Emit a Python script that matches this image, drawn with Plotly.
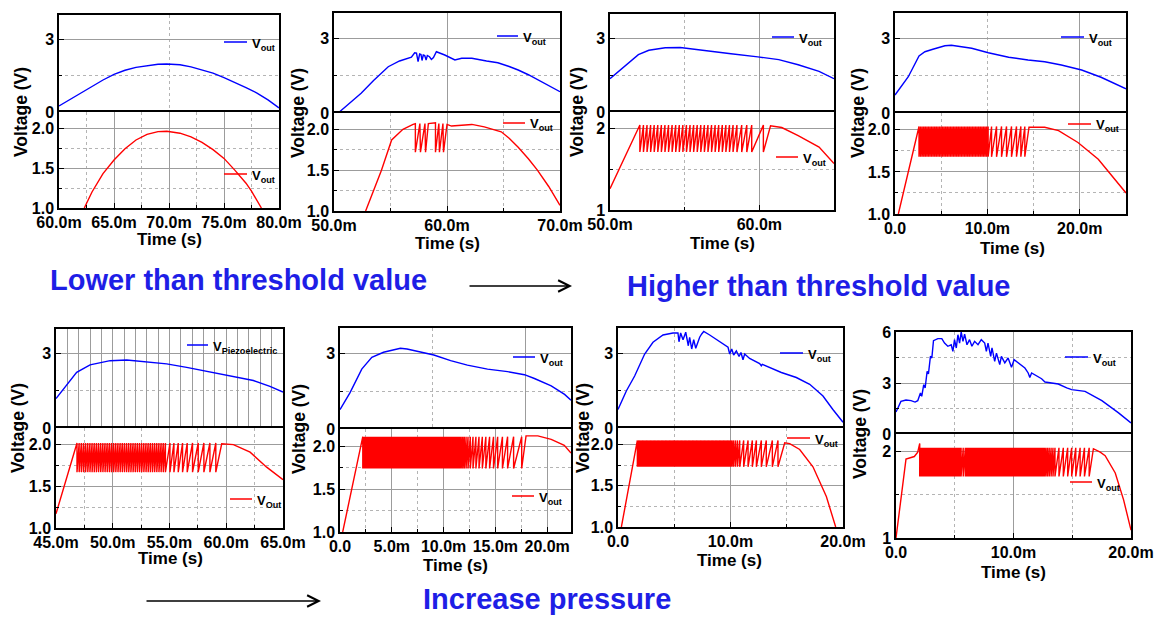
import plotly.graph_objects as go

# ---------------- data: time in ms, voltage in V ----------------
# Panel 1
P1_TOP_T = [60, 61, 62, 63, 64, 65, 66, 67, 68, 69, 69.8, 71, 72, 73, 74, 75, 76, 77, 78, 79, 80]
P1_TOP_V = [0.25, 0.52, 0.8, 1.07, 1.32, 1.55, 1.72, 1.84, 1.92, 1.97, 1.98, 1.95, 1.86, 1.74, 1.6, 1.42, 1.22, 1.01, 0.78, 0.5, 0.17]
P1_BOT_T = [62.3, 63, 64, 65, 66, 67, 68, 69, 69.8, 71, 72, 73, 74, 75, 76, 77, 77.5, 78, 78.4]
P1_BOT_V = [1.0, 1.2, 1.43, 1.6, 1.74, 1.85, 1.92, 1.955, 1.96, 1.935, 1.89, 1.82, 1.73, 1.62, 1.47, 1.31, 1.21, 1.1, 1.0]

# Panel 2
P2_TOP_T = [50.5, 51.5, 52.4, 53.5, 54.8, 55.8, 56.85, 57.14, 57.3, 57.44, 57.58, 57.7, 57.79, 57.9, 58.03, 58.15, 58.26,
            58.45, 58.62, 58.8, 59.06, 59.8, 60.7, 61.3, 62.2, 63.5, 64.5, 65.5, 66.3, 67.2, 68.1, 69.0, 70.0]
P2_TOP_V = [0.05, 0.45, 0.79, 1.3, 1.85, 2.08, 2.23, 2.41, 2.4, 2.06, 2.36, 2.34, 2.1, 2.32, 2.3, 2.12, 2.3,
            2.25, 2.14, 2.22, 2.45, 2.32, 2.12, 2.19, 2.19, 2.08, 2.01, 1.86, 1.72, 1.53, 1.32, 1.1, 0.85]
P2_BOT_T = [52.8, 54.2, 55.1, 56.1, 57.0, 57.2, 57.2, 57.6, 57.65, 58.05, 58.1, 58.35, 58.98, 58.98, 59.28,
            59.33, 59.64, 59.69, 60.0, 60.4, 61.3, 62.2, 63.3, 64.8, 65.5, 66.3, 67.2, 68.0, 69.0, 70.0]
P2_BOT_V = [1.0, 1.5, 1.87, 2.0, 2.06, 2.07, 1.72, 2.07, 1.72, 2.07, 1.72, 2.07, 2.08, 1.72, 2.07,
            1.72, 2.07, 1.72, 2.06, 2.04, 2.05, 2.06, 2.03, 1.97, 1.89, 1.78, 1.64, 1.5, 1.3, 1.07]

# Panel 3
P3_TOP_T = [50, 51, 51.9, 52.6, 53.7, 54.7, 55.9, 57.0, 58.1, 59.9, 61.3, 62.6, 64.0, 65.0]
P3_TOP_V = [1.36, 1.86, 2.34, 2.52, 2.62, 2.63, 2.55, 2.47, 2.38, 2.25, 2.14, 1.93, 1.66, 1.36]
P3_RAMP_T = [50.0, 50.9, 52.0]
P3_RAMP_V = [1.26, 1.61, 2.04]
P3_DROPS = [52.0, 52.24, 52.48, 52.72, 52.96, 53.2, 53.44, 53.68, 53.92, 54.16, 54.4, 54.64, 54.88, 55.12, 55.36,
            55.6, 55.84, 56.08, 56.32, 56.56, 56.8, 57.04, 57.28, 57.52, 57.76, 58.0, 58.24, 58.5, 58.82, 59.16,
            59.49, 60.27]
P3_PEAK, P3_TROUGH = 2.04, 1.71
P3_TAIL_T = [60.75, 61.5, 62.6, 64.0, 65.0]
P3_TAIL_V = [2.03, 2.01, 1.91, 1.77, 1.57]

# Panel 4
P4_TOP_T = [0, 1.44, 2.6, 3.24, 4.1, 5.4, 6.1, 7.2, 8.3, 10.1, 12.3, 14.4, 16.2, 18.0, 20.2, 22.3, 25.0]
P4_TOP_V = [0.72, 1.45, 2.28, 2.45, 2.55, 2.69, 2.71, 2.66, 2.59, 2.41, 2.23, 2.12, 2.05, 1.92, 1.72, 1.43, 0.97]
P4_RAMP_T = [0.36, 2.6]
P4_RAMP_V = [1.0, 2.04]
P4_DROPS = [2.6, 2.77, 2.94, 3.11, 3.28, 3.45, 3.62, 3.79, 3.96, 4.13, 4.3, 4.47, 4.64, 4.81, 4.98, 5.15, 5.32,
            5.49, 5.66, 5.83, 6.0, 6.17, 6.34, 6.51, 6.68, 6.85, 7.02, 7.19, 7.36, 7.53, 7.7, 7.87, 8.04, 8.21,
            8.38, 8.55, 8.72, 8.89, 9.06, 9.23, 9.4, 9.57, 9.74, 9.91, 10.08,
            10.45, 10.99, 11.53, 12.07, 12.61, 13.15, 13.62, 14.05]
P4_PEAK, P4_TROUGH = 2.04, 1.68
P4_TAIL_T = [14.5, 16.2, 17.7, 19.8, 22.0, 25.0]
P4_TAIL_V = [2.03, 2.03, 1.99, 1.85, 1.65, 1.25]

# Panel 5
P5_TOP_T = [45, 45.94, 46.82, 48.0, 49.77, 51.23, 52.7, 54.75, 56.51, 57.98, 59.3, 60.63, 62.39, 63.85, 65.0]
P5_TOP_V = [1.19, 1.72, 2.25, 2.55, 2.72, 2.75, 2.69, 2.59, 2.45, 2.32, 2.19, 2.08, 1.92, 1.68, 1.45]
P5_RAMP_T = [45.0, 46.82]
P5_RAMP_V = [1.17, 2.02]
P5_DROPS = [46.85, 47.04, 47.23, 47.42, 47.61, 47.8, 47.99, 48.18, 48.37, 48.56, 48.75, 48.94, 49.13, 49.32,
            49.51, 49.7, 49.89, 50.08, 50.27, 50.46, 50.65, 50.84, 51.03, 51.22, 51.41, 51.6, 51.79, 51.98,
            52.17, 52.36, 52.55, 52.74, 52.93, 53.12, 53.31, 53.5, 53.69, 53.88, 54.07, 54.26, 54.45, 54.64,
            55.04, 55.39, 55.77, 56.15, 56.56, 57.03, 57.53, 58.03, 58.56, 59.08]
P5_PEAK, P5_TROUGH = 2.02, 1.67
P5_TAIL_T = [59.6, 60.63, 62.1, 63.56, 65.0]
P5_TAIL_V = [2.01, 2.0, 1.91, 1.73, 1.58]

# Panel 6
P6_TOP_T = [0, 0.97, 2.1, 3.07, 4.2, 5.83, 6.47, 7.44, 9.06, 10.68, 12.3, 14.24, 16.18, 17.8, 18.77, 20.39, 21.68, 22.3]
P6_TOP_V = [0.77, 1.44, 2.37, 2.84, 3.04, 3.2, 3.17, 3.07, 2.93, 2.71, 2.53, 2.37, 2.27, 2.15, 2.0, 1.71, 1.37, 1.14]
P6_RAMP_T = [0.26, 2.2]
P6_RAMP_V = [1.0, 2.11]
P6_DROPS = [2.2, 2.33, 2.46, 2.59, 2.72, 2.85, 2.98, 3.11, 3.24, 3.37, 3.5, 3.63, 3.76, 3.89, 4.02, 4.15, 4.28,
            4.41, 4.54, 4.67, 4.8, 4.93, 5.06, 5.19, 5.32, 5.45, 5.58, 5.71, 5.84, 5.97, 6.1, 6.23, 6.36, 6.49,
            6.62, 6.75, 6.88, 7.01, 7.14, 7.27, 7.4, 7.53, 7.66, 7.79, 7.92, 8.05, 8.18, 8.31, 8.44, 8.57, 8.7,
            8.83, 8.96, 9.09, 9.22, 9.35, 9.48, 9.61, 9.74, 9.87, 10.0, 10.13, 10.26, 10.39, 10.52, 10.65,
            10.78, 10.91, 11.04, 11.17, 11.3, 11.43, 11.56, 11.7, 11.85, 12.0, 12.17, 12.36, 12.58, 12.84,
            13.12, 13.42, 13.74, 14.08, 14.44, 14.82, 15.22, 15.68, 16.18, 16.76, 17.54]
P6_PEAK, P6_TROUGH = 2.11, 1.74
P6_TAIL_T = [17.96, 19.1, 20.39, 21.65, 22.3]
P6_TAIL_V = [2.12, 2.12, 2.08, 2.01, 1.92]

# Panel 7
P7_TOP_T = [0, 0.74, 1.48, 2.37, 3.11, 4.0, 4.89, 5.33, 5.42, 5.57, 5.78, 6.02, 6.25, 6.37, 6.55, 6.73, 6.91,
            7.08, 7.26, 7.44, 7.62, 8.15, 8.74, 9.33, 9.78, 9.93, 10.11, 10.28, 10.52, 10.76, 10.93, 11.11,
            11.26, 11.7, 12.59, 12.74, 12.83, 14.52, 15.85, 17.04, 18.22, 19.1, 20.0]
P7_TOP_V = [0.74, 1.48, 2.08, 2.96, 3.43, 3.72, 3.8, 3.8, 3.45, 3.8, 3.53, 3.83, 3.29, 3.63, 3.16, 3.53, 3.19,
            3.43, 3.63, 3.76, 3.86, 3.72, 3.53, 3.36, 3.23, 2.96, 3.16, 2.92, 3.08, 2.86, 3.02, 2.73,
            2.96, 2.78, 2.58, 2.49, 2.55, 2.22, 2.02, 1.75, 1.28, 0.74, 0.23]
P7_RAMP_T = [0.3, 1.72]
P7_RAMP_V = [1.0, 2.05]
P7_DROPS = [1.72, 1.84, 1.96, 2.08, 2.2, 2.32, 2.44, 2.56, 2.68, 2.8, 2.92, 3.04, 3.16, 3.28, 3.4, 3.52, 3.64,
            3.76, 3.88, 4.0, 4.12, 4.24, 4.36, 4.48, 4.6, 4.72, 4.84, 4.96, 5.08, 5.2, 5.32, 5.44, 5.56, 5.68,
            5.8, 5.92, 6.04, 6.16, 6.28, 6.4, 6.52, 6.64, 6.76, 6.88, 7.0, 7.12, 7.24, 7.36, 7.48, 7.6, 7.72,
            7.84, 7.96, 8.08, 8.2, 8.32, 8.44, 8.56, 8.68, 8.8, 8.92, 9.04, 9.16, 9.28, 9.4, 9.52, 9.64, 9.76,
            9.88, 10.0, 10.13, 10.27, 10.44, 10.62, 10.82, 11.17, 11.56, 11.94, 12.3, 12.74, 13.18, 13.72, 14.22]
P7_PEAK, P7_TROUGH = 2.05, 1.73
P7_TAIL_T = [14.82, 15.26, 16.15, 17.33, 18.52, 19.35]
P7_TAIL_V = [2.02, 2.01, 1.94, 1.73, 1.37, 1.0]

# Panel 8
P8_TOP_T = [0.0, 0.42, 0.85, 1.28, 1.62, 1.85, 2.08, 2.19, 2.36, 2.48, 2.65, 2.76, 2.93, 3.05, 3.19, 3.56, 3.9,
            4.13, 4.41, 4.7, 4.84, 4.98, 5.13, 5.27, 5.41, 5.55, 5.7, 5.84, 6.04, 6.26, 6.46, 6.69, 6.98, 7.26,
            7.55, 7.69, 7.83, 8.06, 8.17, 8.4, 8.55, 8.83, 8.97, 9.26, 9.54, 9.83, 10.05, 10.4, 10.97, 11.25,
            11.39, 11.54, 12.39, 12.68, 13.81, 14.53, 14.95, 16.09, 17.52, 18.94, 20.0]
P8_TOP_V = [1.29, 1.92, 2.0, 1.96, 1.88, 1.96, 2.41, 2.22, 2.9, 2.71, 3.69, 3.53, 4.57, 4.47, 5.49, 5.61, 5.61,
            5.35, 5.16, 5.25, 4.86, 5.55, 5.06, 5.84, 5.35, 6.0, 5.45, 5.88, 5.25, 5.55, 5.16, 5.45, 5.25, 5.55,
            5.35, 4.86, 5.35, 4.57, 5.06, 4.27, 4.76, 4.08, 4.57, 4.18, 4.47, 3.92, 4.37, 4.18, 3.88, 3.59,
            3.33, 3.59, 3.25, 3.06, 2.94, 2.71, 2.61, 2.51, 1.96, 1.24, 0.65]
P8_RAMP_T = [0.0, 0.43, 0.85, 1.56, 1.85, 2.02]
P8_RAMP_V = [1.0, 1.44, 1.91, 1.94, 1.99, 2.09]
P8_DROPS = [2.02, 2.13, 2.24, 2.35, 2.46, 2.57, 2.68, 2.79, 2.9, 3.01, 3.12, 3.23, 3.34, 3.45, 3.56, 3.67, 3.78,
            3.89, 4.0, 4.11, 4.22, 4.33, 4.44, 4.55, 4.66, 4.77, 4.88, 4.99, 5.1, 5.21, 5.32, 5.43, 5.54, 5.72,
            5.9, 6.01, 6.12, 6.23, 6.34, 6.45, 6.56, 6.67, 6.78, 6.89, 7.0, 7.11, 7.22, 7.33, 7.44, 7.55, 7.66,
            7.77, 7.88, 7.99, 8.1, 8.21, 8.32, 8.43, 8.54, 8.65, 8.76, 8.87, 8.98, 9.09, 9.2, 9.31, 9.42, 9.53,
            9.64, 9.75, 9.86, 9.97, 10.08, 10.19, 10.3, 10.41, 10.52, 10.63, 10.74, 10.85, 10.96, 11.07, 11.18,
            11.29, 11.4, 11.51, 11.62, 11.73, 11.84, 11.95, 12.06, 12.17, 12.28, 12.39, 12.5, 12.62, 12.75,
            12.89, 13.04, 13.2, 13.36, 13.53, 13.87, 14.24, 14.61, 14.95, 15.3, 15.67, 16.04, 16.44]
P8_PEAK, P8_TROUGH = 2.04, 1.71
P8_TAIL_T = [16.8, 17.38, 17.8, 18.66, 19.37, 20.0]
P8_TAIL_V = [2.03, 1.99, 1.95, 1.75, 1.44, 1.09]


def sawtooth(ramp_t, ramp_v, drops, peak, trough, tail_t, tail_v):
    """Charge ramp, then a drop to the trough at every switching instant, then the tail."""
    t, v = list(ramp_t), list(ramp_v)
    for d in drops:
        t += [d, d]
        v += [peak, trough]
    return t + list(tail_t), v + list(tail_v)


P3_BOT_T, P3_BOT_V = sawtooth(P3_RAMP_T, P3_RAMP_V, P3_DROPS, P3_PEAK, P3_TROUGH, P3_TAIL_T, P3_TAIL_V)
P4_BOT_T, P4_BOT_V = sawtooth(P4_RAMP_T, P4_RAMP_V, P4_DROPS, P4_PEAK, P4_TROUGH, P4_TAIL_T, P4_TAIL_V)
P5_BOT_T, P5_BOT_V = sawtooth(P5_RAMP_T, P5_RAMP_V, P5_DROPS, P5_PEAK, P5_TROUGH, P5_TAIL_T, P5_TAIL_V)
P6_BOT_T, P6_BOT_V = sawtooth(P6_RAMP_T, P6_RAMP_V, P6_DROPS, P6_PEAK, P6_TROUGH, P6_TAIL_T, P6_TAIL_V)
P7_BOT_T, P7_BOT_V = sawtooth(P7_RAMP_T, P7_RAMP_V, P7_DROPS, P7_PEAK, P7_TROUGH, P7_TAIL_T, P7_TAIL_V)
P8_BOT_T, P8_BOT_V = sawtooth(P8_RAMP_T, P8_RAMP_V, P8_DROPS, P8_PEAK, P8_TROUGH, P8_TAIL_T, P8_TAIL_V)

# ---------------- layout of the eight panels (pixel boxes) ----------------
Y_TOP3 = ([0, 3], ["0", "3"], [1.5], 4)
Y_TOP6 = ([0, 3, 6], ["0", "3", "6"], [1.5, 4.5], 6)
Y_BOT_FINE = ([1.0, 1.5, 2.0], ["1.0", "1.5", "2.0"], [1.25, 1.75])
Y_BOT_COARSE = ([1, 2], ["1", "2"], [1.5])

PANELS = [
    dict(top=(P1_TOP_T, P1_TOP_V), bot=(P1_BOT_T, P1_BOT_V), box=(59, 279, 15, 112, 208), xr=(60, 80),
         xt=([60, 65, 70, 75, 80], ["60.0m", "65.0m", "70.0m", "75.0m", "80.0m"]), xminor=[62.5, 67.5, 72.5, 77.5],
         topgrid=([60, 80], [70]), ytop=Y_TOP3, ybot=Y_BOT_FINE,
         vlab=(21, 112), tlab=(169, 240), legt=(224, 247, 42, "out"), legb=(224, 247, 174, "out")),
    dict(top=(P2_TOP_T, P2_TOP_V), bot=(P2_BOT_T, P2_BOT_V), box=(334, 560, 13, 113, 211), xr=(50, 70),
         xt=([50, 60, 70], ["50.0m", "60.0m", "70.0m"]), xminor=[55, 65],
         topgrid=([60], [50]), ytop=Y_TOP3, ybot=Y_BOT_FINE,
         vlab=(298, 113), tlab=(447, 243), legt=(497, 518, 36, "out"), legb=(503, 525, 123, "out")),
    dict(top=(P3_TOP_T, P3_TOP_V), bot=(P3_BOT_T, P3_BOT_V), box=(610, 834, 14, 112, 210), xr=(50, 65),
         xt=([50, 60], ["50.0m", "60.0m"]), xminor=[55],
         topgrid=([60], [55]), ytop=Y_TOP3, ybot=Y_BOT_COARSE,
         vlab=(577, 112), tlab=(722, 243), legt=(772, 794, 37, "out"), legb=(776, 798, 157, "out")),
    dict(top=(P4_TOP_T, P4_TOP_V), bot=(P4_BOT_T, P4_BOT_V), box=(895, 1126, 13, 113, 214), xr=(0, 25),
         xt=([0, 10, 20], ["0.0", "10.0m", "20.0m"]), xminor=[5, 15],
         topgrid=([20], [10]), ytop=Y_TOP3, ybot=Y_BOT_FINE,
         vlab=(858, 113), tlab=(1012, 248), legt=(1061, 1084, 37, "out"), legb=(1068, 1091, 124, "out")),
    dict(top=(P5_TOP_T, P5_TOP_V), bot=(P5_BOT_T, P5_BOT_V), box=(56, 283, 329, 428, 528), xr=(45, 65),
         xt=([45, 50, 55, 60, 65], ["45.0m", "50.0m", "55.0m", "60.0m", "65.0m"]), xminor=[47.5, 52.5, 57.5, 62.5],
         topgrid=(list(range(46, 65)), [45]), ytop=Y_TOP3, ybot=Y_BOT_FINE,
         vlab=(18, 428), tlab=(170, 558), legt=(187, 208, 345, "Piezoelectric"), legb=(230, 252, 499, "Out")),
    dict(top=(P6_TOP_T, P6_TOP_V), bot=(P6_BOT_T, P6_BOT_V), box=(340, 571, 328, 429, 532), xr=(0, 22.3),
         xt=([0, 5, 10, 15, 20], ["0.0", "5.0m", "10.0m", "15.0m", "20.0m"]), xminor=[2.5, 7.5, 12.5, 17.5],
         topgrid=([17.9], [8.9]), ytop=Y_TOP3, ybot=Y_BOT_FINE,
         vlab=(299, 429), tlab=(455, 565), legt=(513, 535, 357, "out"), legb=(512, 534, 496, "out")),
    dict(top=(P7_TOP_T, P7_TOP_V), bot=(P7_BOT_T, P7_BOT_V), box=(618, 843, 328, 428, 527), xr=(0, 20),
         xt=([0, 10, 20], ["0.0", "10.0m", "20.0m"]), xminor=[5, 15],
         topgrid=([10], [5]), ytop=Y_TOP3, ybot=Y_BOT_FINE,
         vlab=(583, 428), tlab=(730, 560), legt=(780, 803, 353, "out"), legb=(787, 810, 438, "out")),
    dict(top=(P8_TOP_T, P8_TOP_V), bot=(P8_BOT_T, P8_BOT_V), box=(896, 1131, 332, 434, 538), xr=(0, 20),
         xt=([0, 10, 20], ["0.0", "10.0m", "20.0m"]), xminor=[5, 15],
         topgrid=([10], [5, 15]), ytop=Y_TOP6, ybot=Y_BOT_COARSE,
         vlab=(860, 434), tlab=(1013, 572), legt=(1065, 1088, 357, "out"), legb=(1070, 1092, 482, "out")),
]

W, H = 1158, 617
FONT = "Arial, Liberation Sans, Arimo, sans-serif"
BLUE, RED = "#0000ff", "#ff0000"
GRID, MINOR = "#9c9c9c", "#b4b4b4"
HEAD_BLUE = "#1e1ee6"
TICKFONT = dict(family=FONT, size=16, color="black", weight="bold")


def px(x):
    return x / W


def py(y):
    return 1 - y / H


def axname(k, a):
    return f"{a}axis" if k == 1 else f"{a}axis{k}"


def axref(k, a):
    return a if k == 1 else f"{a}{k}"


def frame():
    return dict(showline=True, mirror=True, linecolor="black", linewidth=1.5, zeroline=False,
                ticks="inside", ticklen=5, tickwidth=1.2, tickcolor="black", tickfont=TICKFONT,
                gridcolor=GRID, gridwidth=1, fixedrange=True, automargin=False)


fig = go.Figure()
layout = dict(width=W, height=H, margin=dict(l=0, r=0, t=0, b=0, pad=0, autoexpand=False),
              paper_bgcolor="white", plot_bgcolor="white", showlegend=False, hovermode=False)
shapes, annotations = [], []

for i, p in enumerate(PANELS):
    ta, ba = 2 * i + 1, 2 * i + 2
    x0, x1, yt, ym, yb = p["box"]
    xdom = [px(x0), px(x1)]

    # upper subplot: piezo voltage; its x line is drawn only along the top edge,
    # the shared divider comes from the lower subplot's frame
    layout[axname(ta, "x")] = dict(frame(), domain=xdom, range=list(p["xr"]), anchor=axref(ta, "y"),
                                   side="top", mirror=False, ticks="",
                                   tickmode="array", tickvals=p["topgrid"][0], showticklabels=False,
                                   showgrid=True,
                                   minor=dict(tickmode="array", tickvals=p["topgrid"][1], showgrid=True,
                                              griddash="dot", gridcolor=MINOR, ticks=""))
    tv, tt, tmin, tmax = p["ytop"]
    layout[axname(ta, "y")] = dict(frame(), domain=[py(ym), py(yt)], range=[0, tmax], anchor=axref(ta, "x"),
                                   tickmode="array", tickvals=tv, ticktext=tt, showgrid=True,
                                   minor=dict(tickmode="array", tickvals=tmin, showgrid=True, griddash="dot",
                                              gridcolor=MINOR, ticks="inside", ticklen=3, tickcolor="black"))
    # lower subplot: regulated output
    layout[axname(ba, "x")] = dict(frame(), domain=xdom, range=list(p["xr"]), anchor=axref(ba, "y"),
                                   tickmode="array", tickvals=p["xt"][0], ticktext=p["xt"][1], showgrid=True,
                                   ticklabelstandoff=-1,
                                   minor=dict(tickmode="array", tickvals=p["xminor"], showgrid=True,
                                              griddash="dot", gridcolor=MINOR, ticks="inside", ticklen=3,
                                              tickcolor="black"))
    bv, bt, bmin = p["ybot"]
    layout[axname(ba, "y")] = dict(frame(), domain=[py(yb), py(ym)], range=[1, 2.2], anchor=axref(ba, "x"),
                                   tickmode="array", tickvals=bv, ticktext=bt, showgrid=True,
                                   minor=dict(tickmode="array", tickvals=bmin, showgrid=True, griddash="dot",
                                              gridcolor=MINOR, ticks="inside", ticklen=3, tickcolor="black"))

    fig.add_trace(go.Scatter(x=p["top"][0], y=p["top"][1], mode="lines", line=dict(color=BLUE, width=1.4),
                             xaxis=axref(ta, "x"), yaxis=axref(ta, "y"), hoverinfo="skip"))
    fig.add_trace(go.Scatter(x=p["bot"][0], y=p["bot"][1], mode="lines", line=dict(color=RED, width=1.4),
                             xaxis=axref(ba, "x"), yaxis=axref(ba, "y"), hoverinfo="skip"))

    # axis titles
    annotations.append(dict(x=px(p["vlab"][0]), y=py(p["vlab"][1]), xref="paper", yref="paper",
                            text="Voltage (V)", textangle=-90, showarrow=False, xanchor="center",
                            yanchor="middle", font=dict(family=FONT, size=17.5, color="black", weight="bold")))
    annotations.append(dict(x=px(p["tlab"][0]), y=py(p["tlab"][1]), xref="paper", yref="paper",
                            text="Time (s)", showarrow=False, xanchor="center", yanchor="middle",
                            font=dict(family=FONT, size=17, color="black", weight="bold")))

    # in-plot legends
    for (lx0, lx1, ly, sub), col in ((p["legt"], BLUE), (p["legb"], RED)):
        shapes.append(dict(type="line", xref="paper", yref="paper", x0=px(lx0), x1=px(lx1),
                           y0=py(ly), y1=py(ly), line=dict(color=col, width=1.5)))
        annotations.append(dict(x=px(lx1 + 3), y=py(ly + 2), xref="paper", yref="paper",
                                text=f"V<sub>{sub}</sub>", showarrow=False, xanchor="left", yanchor="middle",
                                font=dict(family=FONT, size=13, color="black", weight="bold")))

# headline captions and arrows
for text, cx, cy in (("Lower than threshold value", 238, 280),
                     ("Higher than threshold value", 819, 286),
                     ("Increase pressure", 547, 599)):
    annotations.append(dict(x=px(cx), y=py(cy), xref="paper", yref="paper", text=text, showarrow=False,
                            xanchor="center", yanchor="middle",
                            font=dict(family=FONT, size=29, color=HEAD_BLUE, weight="bold")))

for ax0, ax1, ay in ((468, 572, 286), (145, 321, 601)):
    annotations.append(dict(x=px(ax1), y=py(ay), xref="paper", yref="paper", text="", showarrow=True,
                            ax=-(ax1 - ax0), ay=0, axref="pixel", ayref="pixel", arrowhead=5,
                            arrowsize=1.6, arrowwidth=1.4, arrowcolor="black", standoff=0, startstandoff=0))

layout["shapes"] = shapes
layout["annotations"] = annotations
fig.update_layout(**layout)
fig.write_html("out.html", config={"displayModeBar": False})
